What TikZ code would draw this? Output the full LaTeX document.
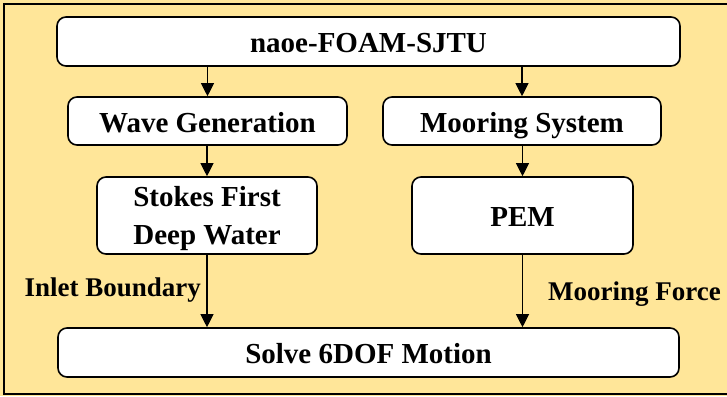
\documentclass[tikz,border=0pt]{standalone}
\usepackage{fontspec}
\setmainfont{Liberation Serif}
\usetikzlibrary{arrows.meta}
\definecolor{bgyellow}{HTML}{FFE699}
\begin{document}
\begin{tikzpicture}[x=1pt,y=-1pt,
  box/.style={draw=black, line width=1.6pt, fill=white, rounded corners=9pt,
    inner sep=0pt, align=center,
    font=\fontsize{29}{38}\selectfont\bfseries},
  oneline/.style={text height=24pt, text depth=2pt},
  conn/.style={line width=1.1pt, -{Triangle[width=13pt,length=13pt]}},
  lbl/.style={font=\fontsize{27}{32}\selectfont\bfseries, inner sep=0pt}]
\useasboundingbox (0,0) rectangle (727,396);
\fill[bgyellow] (0,0) rectangle (727,396);
\draw[line width=1.8pt, fill=bgyellow] (4,4) rectangle (740,394);
\node[box, oneline, minimum width=623pt, minimum height=49pt] (top) at (368.5,41.5) {naoe-FOAM-SJTU};
\node[box, oneline, minimum width=279pt, minimum height=48pt] (wave) at (207.5,121) {Wave Generation};
\node[box, oneline, minimum width=278pt, minimum height=48pt] (moor) at (522,121) {Mooring System};
\node[box, text depth=-5pt, minimum width=220pt, minimum height=77pt] (stokes) at (207,215.5) {Stokes First\\Deep Water};
\node[box, oneline, minimum width=221pt, minimum height=77pt] (pem) at (522.5,215.5) {PEM};
\node[box, oneline, minimum width=621pt, minimum height=49pt] (solve) at (368.5,352.5) {Solve 6DOF Motion};
\draw[conn] (wave.north |- top.south) -- (wave.north);
\draw[conn] (moor.north |- top.south) -- (moor.north);
\draw[conn] (wave.south -| stokes.north) -- (stokes.north);
\draw[conn] (moor.south -| pem.north) -- (pem.north);
\draw[conn] (stokes.south) -- (stokes.south |- solve.north);
\draw[conn] (pem.south) -- (pem.south |- solve.north);
\node[lbl, anchor=east] (inlet) at (201,290) {Inlet Boundary};
\node[lbl, anchor=west] (mforce) at (548,294) {Mooring Force};
\end{tikzpicture}
\end{document}
